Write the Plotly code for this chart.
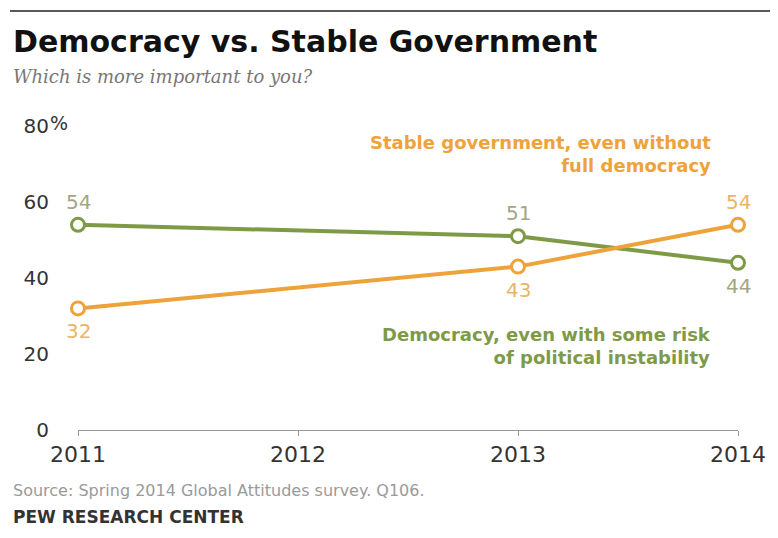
import plotly.graph_objects as go

years = [2011, 2013, 2014]
democracy = [54, 51, 44]
stable = [32, 43, 54]
x_ticks = [2011, 2012, 2013, 2014]
y_ticks = [0, 20, 40, 60, 80]
y_tick_labels = ["0", "20", "40", "60", "80"]

W, H = 778, 538
OFF = 8  # page offset of the figure inside the browser body
L, R, T, B = 78 - OFF, 778 - (738 - OFF), 126 - OFF, 538 - (430 - OFF)
PW, PH = W - L - R, H - T - B

def px(x):
    return (x - OFF - L) / PW

def py(y):
    return (H - B - (y - OFF)) / PH

GREEN = "#7f9a46"
ORANGE = "#eea23a"
GREEN_LBL = "#a3a685"
ORANGE_LBL = "#ecb465"

fig = go.Figure()
fig.add_trace(go.Scatter(
    x=years, y=democracy, mode="lines+markers",
    line=dict(color=GREEN, width=4),
    marker=dict(size=13, color="white", line=dict(color=GREEN, width=3)),
    cliponaxis=False, hoverinfo="skip", showlegend=False))
fig.add_trace(go.Scatter(
    x=years, y=stable, mode="lines+markers",
    line=dict(color=ORANGE, width=4),
    marker=dict(size=13, color="white", line=dict(color=ORANGE, width=3)),
    cliponaxis=False, hoverinfo="skip", showlegend=False))

ann = []
dem_pos = [1, 1, -1]
sta_pos = [-1, -1, 1]
for xv, yv, p in zip(years, democracy, dem_pos):
    ann.append(dict(x=xv, y=yv, xref="x", yref="y", text=str(yv), showarrow=False,
                    yshift=23 * p, font=dict(family="DejaVu Sans", size=20, color=GREEN_LBL)))
for xv, yv, p in zip(years, stable, sta_pos):
    ann.append(dict(x=xv, y=yv, xref="x", yref="y", text=str(yv), showarrow=False,
                    yshift=23 * p, font=dict(family="DejaVu Sans", size=20, color=ORANGE_LBL)))

label_x = 2011 + (713 - 78) / 220
ann.append(dict(x=label_x, y=(430 - 154) / 3.8, xref="x", yref="y",
                text="Stable government, even without<br>full democracy",
                xanchor="right", yanchor="middle", align="right", showarrow=False,
                font=dict(family="DejaVu Sans", size=18, color=ORANGE, weight="bold")))
ann.append(dict(x=label_x, y=(430 - 346) / 3.8, xref="x", yref="y",
                text="Democracy, even with some risk<br>of political instability",
                xanchor="right", yanchor="middle", align="right", showarrow=False,
                font=dict(family="DejaVu Sans", size=18, color=GREEN, weight="bold")))

ann.append(dict(x=px(11), y=py(42), xref="paper", yref="paper", xanchor="left", yanchor="middle",
                text="<b>Democracy vs. Stable Government</b>", showarrow=False,
                font=dict(family="DejaVu Sans", size=30, color="#111")))
ann.append(dict(x=px(11), y=py(76), xref="paper", yref="paper", xanchor="left", yanchor="middle",
                text="<i>Which is more important to you?</i>", showarrow=False,
                font=dict(family="DejaVu Serif", size=18, color="#777")))
ann.append(dict(x=px(48), y=py(123), xref="paper", yref="paper", xanchor="left", yanchor="middle",
                text="%", showarrow=False,
                font=dict(family="DejaVu Sans", size=19, color="#333")))
ann.append(dict(x=px(11), y=py(490), xref="paper", yref="paper", xanchor="left", yanchor="middle",
                text="Source: Spring 2014 Global Attitudes survey. Q106.", showarrow=False,
                font=dict(family="DejaVu Sans", size=16, color="#9a9a9a")))
ann.append(dict(x=px(11), y=py(517), xref="paper", yref="paper", xanchor="left", yanchor="middle",
                text="<b>PEW RESEARCH CENTER</b>", showarrow=False,
                font=dict(family="DejaVu Sans", size=17, color="#333")))

fig.update_layout(
    width=W, height=H,
    margin=dict(l=L, r=R, t=T, b=B),
    paper_bgcolor="white", plot_bgcolor="white",
    annotations=ann,
    shapes=[dict(type="line", xref="paper", yref="paper",
                 x0=px(10), x1=px(790), y0=py(11), y1=py(11),
                 line=dict(color="#222", width=1.5))],
    xaxis=dict(range=[2011, 2014], tickvals=x_ticks, ticktext=[str(v) for v in x_ticks],
               showgrid=False, zeroline=False, showline=True, linecolor="#999", linewidth=1,
               ticks="outside", ticklen=5, tickcolor="#999",
               tickfont=dict(family="DejaVu Sans", size=22, color="#333"), fixedrange=True),
    yaxis=dict(range=[0, 80], tickvals=y_ticks, ticktext=y_tick_labels,
               showgrid=False, zeroline=False, showline=False, ticks="",
               ticklabelstandoff=28,
               tickfont=dict(family="DejaVu Sans", size=20, color="#333"), fixedrange=True),
)

fig.write_html("out.html")
